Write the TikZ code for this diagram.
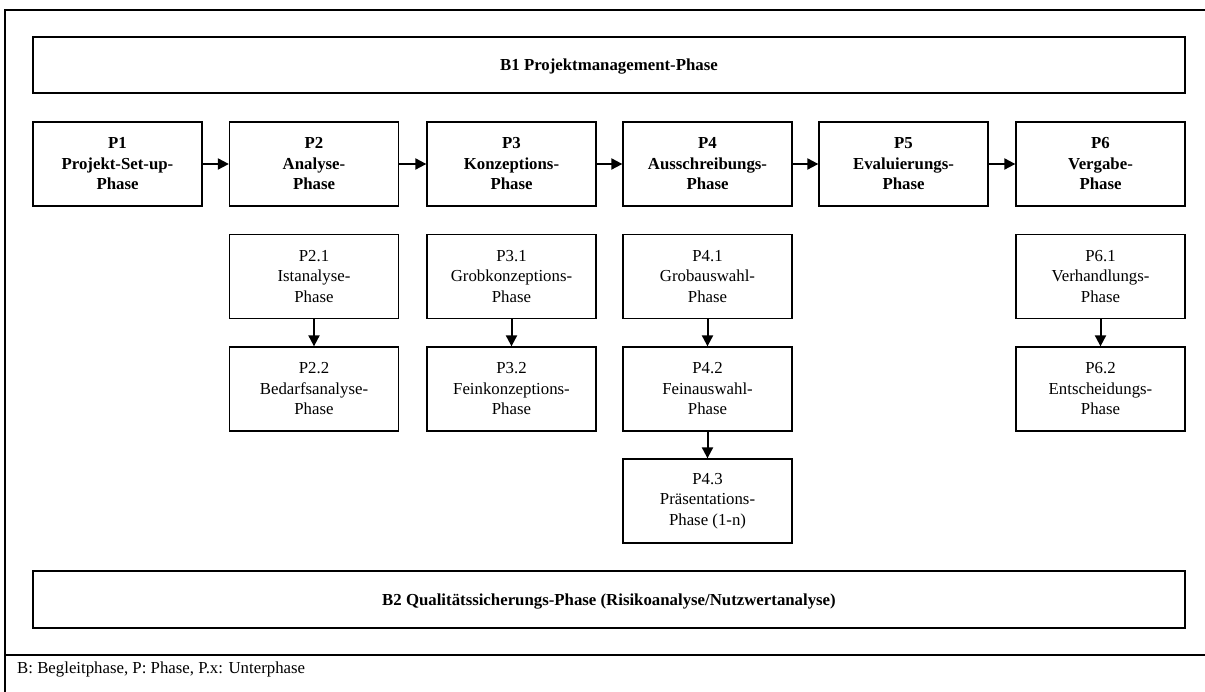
\documentclass[tikz,border=0pt]{standalone}
\usepackage{fontspec}
\setmainfont{Liberation Serif}
\usetikzlibrary{arrows.meta}
\begin{document}
\begin{tikzpicture}[x=1pt,y=-1pt,
  txt/.style={font=\fontsize{16.8}{20.5}\selectfont},
  box/.style={draw, line width=1.3pt, minimum width=169pt, minimum height=84pt, inner sep=0pt, align=center, txt},
  mainbox/.style={box, font=\fontsize{16.8}{20.5}\selectfont\bfseries},
  widebox/.style={mainbox, minimum width=1152pt, minimum height=56pt, text depth=0pt},
  arr/.style={line width=2pt, -{Triangle[length=11pt,width=11pt]}},
  frame/.style={line width=1.3pt}]
\useasboundingbox (0,0) rectangle (1205,692);
% frame
\draw[frame] (1205,10) -- (5,10) -- (5,692);
\draw[frame] (5,655) -- (1205,655);
% wide boxes
\node[widebox] (B1) at (609,65) {B1 Projektmanagement-Phase};
\node[widebox, minimum height=57pt] (B2) at (609,599.5) {B2 Qualitätssicherungs-Phase (Risikoanalyse/Nutzwertanalyse)};
% main phases
\node[mainbox] (P1) at (117.5,164) {P1\\Projekt-Set-up-\\Phase};
\node[mainbox] (P2) at (314,164) {P2\\Analyse-\\Phase};
\node[mainbox] (P3) at (511.5,164) {P3\\Konzeptions-\\Phase};
\node[mainbox] (P4) at (707.5,164) {P4\\Ausschreibungs-\\Phase};
\node[mainbox] (P5) at (903.5,164) {P5\\Evaluierungs-\\Phase};
\node[mainbox] (P6) at (1100.5,164) {P6\\Vergabe-\\Phase};
% sub phases
\node[box] (P21) at (314,276.5) {P2.1\\Istanalyse-\\Phase};
\node[box] (P22) at (314,389) {P2.2\\Bedarfsanalyse-\\Phase};
\node[box] (P31) at (511.5,276.5) {P3.1\\Grobkonzeptions-\\Phase};
\node[box] (P32) at (511.5,389) {P3.2\\Feinkonzeptions-\\Phase};
\node[box] (P41) at (707.5,276.5) {P4.1\\Grobauswahl-\\Phase};
\node[box] (P42) at (707.5,389) {P4.2\\Feinauswahl-\\Phase};
\node[box] (P43) at (707.5,501) {P4.3\\Präsentations-\\Phase (1-n)};
\node[box] (P61) at (1100.5,276.5) {P6.1\\Verhandlungs-\\Phase};
\node[box] (P62) at (1100.5,389) {P6.2\\Entscheidungs-\\Phase};
% arrows
\draw[arr] (P1) -- (P2);
\draw[arr] (P2) -- (P3);
\draw[arr] (P3) -- (P4);
\draw[arr] (P4) -- (P5);
\draw[arr] (P5) -- (P6);
\draw[arr] (P21) -- (P22);
\draw[arr] (P31) -- (P32);
\draw[arr] (P41) -- (P42);
\draw[arr] (P42) -- (P43);
\draw[arr] (P61) -- (P62);
% legend
\node[txt, anchor=base west, inner sep=0pt] (legend) at (17,673) {B: Begleitphase, P: Phase, P.x: Unterphase};
\end{tikzpicture}
\end{document}
